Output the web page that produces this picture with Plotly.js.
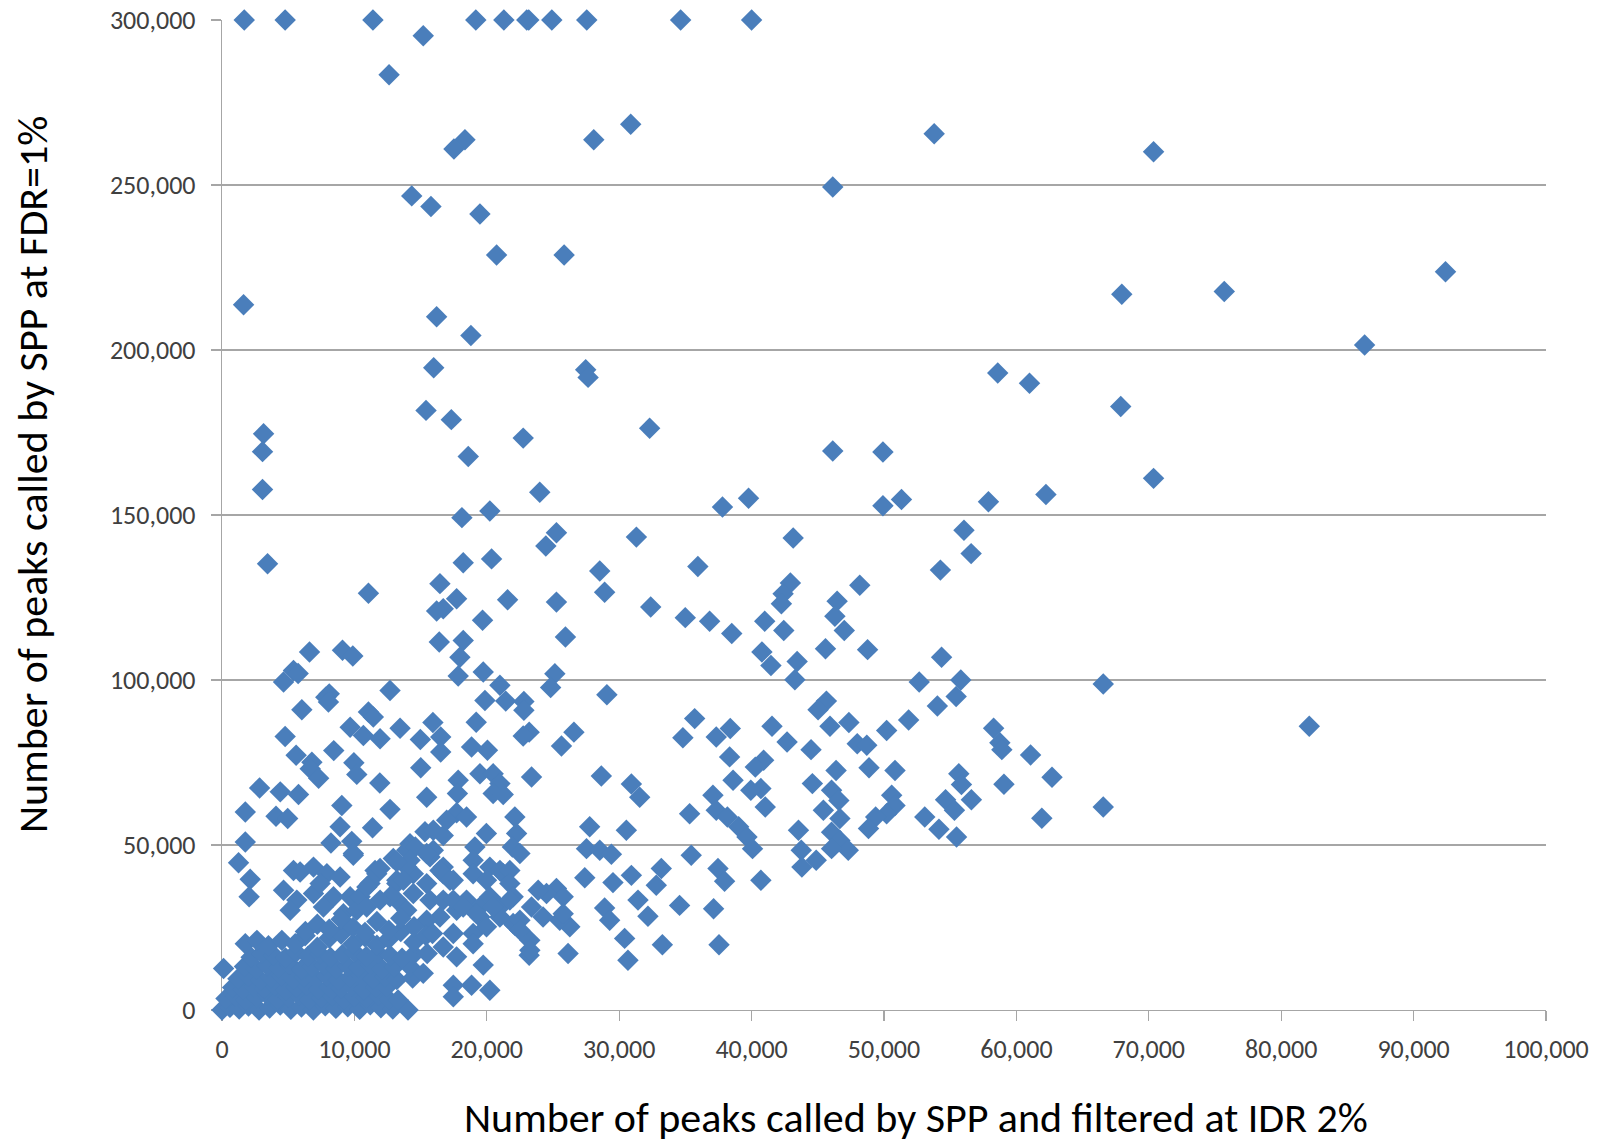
<!DOCTYPE html>
<html>
<head>
<meta charset="utf-8">
<script src="https://cdn.plot.ly/plotly-3.0.1.min.js"></script>
<style>html,body{margin:0;padding:0;background:#fff;}#chart{width:1604px;height:1145px;}</style>
</head>
<body>
<div id="chart"></div>
<script>
// ---- data: [peaks at IDR 2%, peaks at FDR 1%] ----
const highPts = [
 [1680,300000],[4770,300000],[11400,300000],[19170,300000],[21290,300000],[23020,300000],[23170,300000],[24910,300000],[27550,300000],[34640,300000],[40000,300000],
 [15200,295200],[12620,283400],[30870,268400],[53790,265500],[28080,263700],[18350,263700],[17520,260900],[70360,260100],[46130,249400],[14330,246700],[15780,243500],[19480,241200],[20740,228800],[25840,228800],[92410,223700],[75700,217700],[67960,216900],[1630,213700],[16210,210100],[18800,204400],[86300,201500],[15990,194600],[27470,194000],[27650,191700],[58590,193000],[60990,189900],[67880,182900],[15410,181700],[17320,178900]
];
const midPts = [
 [32300,176300],[3140,174600],[22750,173300],[3060,169200],[18600,167700],[46130,169400],[49920,169100],[70360,161100],[3060,157700],[24000,156900],[39770,155100],[37800,152400],[49920,152800],[51320,154700],[57890,154000],[62230,156200],[20230,151200],[18120,149200],[25260,144600],[24460,140600],[31300,143300],[43140,143000],[56040,145400],[56580,138300],[54260,133300],[3440,135200],[18220,135500],[20360,136700],[35940,134400],[28530,133000],[28900,126600],[42930,129400],[42380,126100],[42250,123100],[48170,128700],[46460,123900],[46290,119300],[47000,115000],[16460,129200],[11060,126300],[17720,124600],[16710,121600],[16210,120900],[21570,124300],[25260,123600],[32380,122100],[19680,118100],[34990,118900],[36830,117800],[38500,114100],[40990,117800],[42430,115000],[25940,113000],[16410,111500],[18220,112000],[17970,106900],[6610,108500],[9100,109000],[9880,107300],[40780,108500],[41460,104400],[43440,105600],[45580,109500],[48760,109200],[54350,106900],[17840,101200],[19730,102400],[25140,101900],[5400,102900],[5750,102000]
];
const lowRightPts = [
 [20990,98400],[4650,99400],[24820,97700],[12690,96800],[29070,95500],[43270,100100],[52660,99400],[55800,100000],[66560,98800],[55450,95000],[82120,86000],[45650,93600],[45020,91000],[54030,92100],[51860,87900],[50200,84700],[47350,87100],[45920,86000],[41540,86000],[38390,85300],[37330,82700],[35700,88300],[34810,82500],[42680,81200],[44490,78900],[47980,80700],[48700,80200],[58280,85400],[58750,81000],[58900,78900],[61070,77300],[62690,70500],[59060,68400],[66560,61500],[61920,58100],[55650,71600],[55850,68300],[56600,63700],[54650,63700],[55320,60500],[53080,58500],[54150,54800],[55480,52400],[50830,72600],[48870,73400],[50580,65100],[50830,62000],[50200,59500],[49370,58500],[48830,55000],[46380,72600],[44590,68600],[46040,66600],[46590,63500],[45420,60500],[46670,58000],[43540,54500],[46040,53900],[46670,51400],[47300,48400],[46040,48900],[43750,48400],[44880,45400],[43800,43300],[40910,75700],[40280,73600],[38340,76700],[38600,69600],[40700,67100],[39940,66600],[41030,61500],[37080,65100],[37330,60500],[38170,58500],[39020,55500],[39650,52400],[40070,48900],[37460,42900],[37960,39000],[40700,39300],[37130,30700],[37540,19800],[35320,59500],[35440,46900]
];
const lowLeftPts = [
 [8100,95800],[7840,94800],[8040,93300],[6030,91000],[11060,90300],[11430,88800],[4770,82900],[9680,85700],[10680,83200],[11940,82200],[13450,85400],[15930,87100],[14980,82000],[16520,82700],[16520,78200],[5600,77200],[6790,75100],[6660,73100],[7300,70200],[8440,78600],[9960,74900],[10180,71400],[11920,68800],[15010,73400],[17840,69600],[17780,65600],[2840,67300],[4400,66100],[5780,65300],[9050,62000],[12690,60800],[15460,64500],[1760,60000],[4080,58700],[4960,58000],[11370,55200],[8920,55500],[8230,50600],[9800,51100],[9920,46900],[1760,50900],[1250,44600],[2130,39600],[2050,34300],[17720,59800],[18470,58500],
 [19860,93800],[21430,93600],[22800,93500],[22800,90800],[19200,87200],[18850,79700],[20050,78700],[23200,84200],[22750,83000],[26580,84200],[25640,80000],[28650,70900],[30920,68500],[31550,64500],[23380,70600],[19480,71600],[20480,71600],[20990,68600],[20480,65600],[21240,65300],
 [22120,58500],[19970,53500],[19100,49400],[18970,45400],[22250,53500],[21930,49400],[22500,47400],[27770,55500],[30540,54500],[27530,48900],[28530,48400],[29410,47200],[27400,40100],[29530,38600],[30920,40800],[33180,42900],[32800,37800],[31420,33300],[32170,28400],[28900,30900],[29280,27200],[34560,31700],[30410,21700],[30660,15100],[33260,19800],[26140,17100],[23250,21100],[23200,16600],[22120,25700],[25260,36800],[25770,34300],[24510,35300],[23880,36300],[26270,25200],[25510,27200],[24250,28200],[23380,31200],[25770,29200],[21990,26200]
];
const bandPts = [
 [15330,54000],[14200,50400],[13950,48400],[12940,45900],[14600,49400],[15960,54500],[16710,52900],[16970,57500],[15710,46400],[15960,48400],[16710,43300],[17470,39300],[16710,41300],
 [21240,41300],[20230,43300],[18970,41300],[19980,39300],[20990,42300],[21740,42300],[21740,38300],[21990,34300],
 [18470,33300],[19480,31200],[20230,34300],[20990,31200],[20990,28200],[19480,28200],[17720,30200],[16460,28200],[15460,27200],[14450,41300],[15460,38300],[14450,35300],[13200,33300],[13950,30200],[15710,33300],[13200,38300],[16710,33300],[17470,33300],[18220,31200],[19230,29200],[20480,31200],[21740,33300],
 [18970,23200],[19980,25200],[22500,27200],[22500,24200],[23250,18100],[17470,23200],[18970,20100],[16710,19100],[17720,16100],[19730,13600],[20230,6000],[18850,7500],[17470,7500],[17470,4000],
 [5400,42300],[5900,41800],[6910,43300],[7920,41300],[8920,40300],[4650,36300],[5650,33300],[5150,30200],[6910,35300],[7410,38300],[8420,34300],[7660,31200],[9170,29200],[9680,34300],[10180,30200],[11560,42300],[11180,38300],[13200,39300],[13950,43300],[12690,34300],[10430,34300],[10930,31200],[11940,33300],[11690,41300],[13700,39300],[14200,45400],[15460,47400],[16460,42300],[17220,39300],[10940,37300],[11940,42900],[13200,44900],[9920,47400]
];
// dense cluster near the origin, read row by row (IDR values and matching FDR values)
const clusterIDR = [
 [0,600,1300,2000,2800,3600,4400,5200,6000,6900,7800,8600,9500,10400,11200,12000,12900,14050],
 [300,1000,1800,2600,3400,4200,5000,5800,6600,7500,8300,9200,10000,10900,11800,12600,13300],
 [800,1600,2400,3200,4000,4800,5600,6400,7300,8100,9000,9800,10700,11600,12440],
 [1200,2000,2900,3700,4500,5400,6200,7100,7900,8800,9700,10500,11400,12300,13200,14400],
 [120,1700,2600,3400,4300,5100,6000,6800,7700,8600,9500,10300,11200,12100,13000,14200,15200],
 [2200,3000,3900,4800,5600,6500,7400,8200,9100,10000,10900,11800,12700,13600,14500,15500],
 [1760,2640,3510,4520,5530,6280,7200,8100,9000,9900,10800,11700,12600,13500,14500,15400],
 [6300,7200,8100,9000,9900,10800,11700,12600,13500,14500,15900]
];
const clusterFDR = [
 [0,800,300,1200,0,600,1500,200,900,0,1300,500,1000,200,1600,700,300,0],
 [3500,4200,3000,3800,4600,3200,3900,4400,3100,3700,4300,3300,4000,3600,4500,3200,3000],
 [6800,6200,7100,6500,7400,6000,6900,7500,6300,7000,6600,7300,6100,6900,7000],
 [9500,10200,9000,9800,10400,9300,10000,9600,10300,9100,9900,10500,9400,10100,9200,9700],
 [12600,13200,12400,13500,12800,13900,12300,13100,13600,12500,13300,12900,13800,12400,13000,13100,11100],
 [16000,17200,16600,15800,17500,16300,17000,15900,16800,17600,16200,17100,16500,15700,16900,17100],
 [20100,21100,19500,21100,20100,22500,19000,21800,23000,20000,22200,19600,21500,23800,20500,22600],
 [23800,26000,24500,27500,25000,23500,26800,24200,27800,25200,23200]
];
const xTickVals = [0,10000,20000,30000,40000,50000,60000,70000,80000,90000,100000];
const xTickText = ['0','10,000','20,000','30,000','40,000','50,000','60,000','70,000','80,000','90,000','100,000'];
const yTickVals = [0,50000,100000,150000,200000,250000,300000];
const yTickText = ['0','50,000','100,000','150,000','200,000','250,000','300,000'];
const xTitle = 'Number of peaks called by SPP and filtered at IDR 2%';
const yTitle = 'Number of peaks called by SPP at FDR=1%';

// ---- assemble ----
const xs = [], ys = [];
[highPts, midPts, lowRightPts, lowLeftPts, bandPts].forEach(g => g.forEach(p => { xs.push(p[0]); ys.push(p[1]); }));
clusterIDR.forEach((row, i) => row.forEach((v, j) => { xs.push(v); ys.push(clusterFDR[i][j]); }));

const FONT = "Carlito, Calibri, 'Open Sans', sans-serif";
const gridCol = '#a6a6a6';

const trace = {
  type: 'scatter', mode: 'markers', x: xs, y: ys, cliponaxis: false,
  marker: {symbol: 'diamond', size: 16.5, color: '#4a7ebb', line: {width: 0}},
  hoverinfo: 'x+y'
};

const layout = {
  width: 1604, height: 1145,
  margin: {l: 222, r: 58, t: 20, b: 135},
  paper_bgcolor: '#ffffff', plot_bgcolor: '#ffffff',
  showlegend: false,
  font: {family: FONT, color: '#404040', size: 26},
  xaxis: {
    range: [0, 100000], tickmode: 'array', tickvals: xTickVals, ticktext: xTickText,
    showgrid: false, zeroline: false, showline: true, linecolor: gridCol, linewidth: 1.3,
    ticks: 'outside', ticklen: 10, tickcolor: gridCol, tickwidth: 1.3,
    ticklabelstandoff: 5, tickfont: {family: FONT, size: 26, color: '#404040'},
    layer: 'below traces', fixedrange: true
  },
  yaxis: {
    range: [0, 300000], tickmode: 'array', tickvals: yTickVals, ticktext: yTickText,
    showgrid: true, gridcolor: gridCol, gridwidth: 1.3, zeroline: false,
    showline: true, linecolor: gridCol, linewidth: 1.3,
    ticks: 'outside', ticklen: 10, tickcolor: gridCol, tickwidth: 1.3,
    ticklabelstandoff: 10, tickfont: {family: FONT, size: 26, color: '#404040'},
    layer: 'below traces', fixedrange: true
  },
  annotations: [
    {text: xTitle, xref: 'paper', yref: 'paper', x: 0.5242, y: -0.1081, xanchor: 'center', yanchor: 'middle',
     showarrow: false, borderpad: 0, font: {family: FONT, size: 42, color: '#000000'}},
    {text: yTitle, xref: 'paper', yref: 'paper', x: -0.1435, y: 0.5404, xanchor: 'center', yanchor: 'middle',
     textangle: -90, showarrow: false, borderpad: 0, font: {family: FONT, size: 42, color: '#000000'}}
  ]
};

Plotly.newPlot('chart', [trace], layout, {displayModeBar: false, staticPlot: true});
</script>
</body>
</html>
